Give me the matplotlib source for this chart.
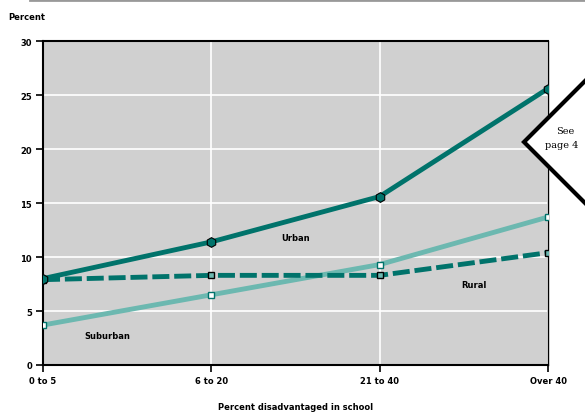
import matplotlib
matplotlib.use("Agg")
import matplotlib.pyplot as plt
from matplotlib.patches import Polygon

categories = ["0 to 5", "6 to 20", "21 to 40", "Over 40"]
urban = [8.0, 11.4, 15.6, 25.6]
rural = [7.9, 8.3, 8.3, 10.4]
suburban = [3.7, 6.5, 9.3, 13.7]
yticks = [0, 5, 10, 15, 20, 25, 30]

dark = "#00736b"
light = "#6cb8b0"

fig = plt.figure(figsize=(5.85, 4.14), dpi=100)
ax = fig.add_axes([43/585, 1-366/414, (548-43)/585, (366-42)/414])
ax.set_facecolor("#d0d0d0")
x = list(range(len(categories)))

ax.plot(x, suburban, color=light, lw=3.5, marker="s", ms=5, mfc="white", mec=dark, mew=1, zorder=3)
ax.plot(x, rural, color=dark, lw=3.5, ls=(0, (3.5, 1)), marker="s", ms=5, mfc=light, mec="black", mew=1, zorder=4)
ax.plot(x, urban, color=dark, lw=3.5, marker="h", ms=7, mfc=dark, mec="black", mew=0.8, zorder=5)

ax.set_xlim(0, 3)
ax.set_ylim(0, 30)
ax.set_xticks(x)
ax.set_xticklabels(categories)
ax.set_yticks(yticks)
ax.grid(True, color="white", lw=1.2)
ax.set_axisbelow(True)
for s in ["left", "bottom", "top"]:
    ax.spines[s].set_linewidth(1.5)
ax.spines["right"].set_linewidth(1.0)
ax.tick_params(axis="both", labelsize=6, length=5, width=1.2, pad=3)
for lab in ax.get_xticklabels() + ax.get_yticklabels():
    lab.set_fontweight("bold")
ax.set_xlabel("Percent disadvantaged in school", fontsize=6, fontweight="bold", labelpad=12)

ax.text(1.5, 11.8, "Urban", fontsize=6, fontweight="bold", ha="center", va="center")
ax.text(2.56, 7.5, "Rural", fontsize=6, fontweight="bold", ha="center", va="center")
ax.text(0.38, 2.7, "Suburban", fontsize=6, fontweight="bold", ha="center", va="center")

fig.text(8/585, 1-18/414, "Percent", fontsize=6, fontweight="bold", ha="left", va="center")

# top rule
fig.add_artist(plt.Line2D([30/585, 1], [1-1/414, 1-1/414], color="#999999", lw=2))

# diamond callout
pts = [(524/585, 1-143/414), (600/585, 1-67/414), (676/585, 1-143/414), (600/585, 1-219/414)]
fig.add_artist(Polygon(pts, closed=True, facecolor="white", edgecolor="black", lw=3, transform=fig.transFigure, zorder=10))
fig.text(556/585, 1-131/414, "See", fontsize=7, family="DejaVu Serif", ha="left", va="center", zorder=11)
fig.text(545/585, 1-145/414, "page 4", fontsize=7, family="DejaVu Serif", ha="left", va="center", zorder=11)

fig.savefig("out.png", dpi=100)
